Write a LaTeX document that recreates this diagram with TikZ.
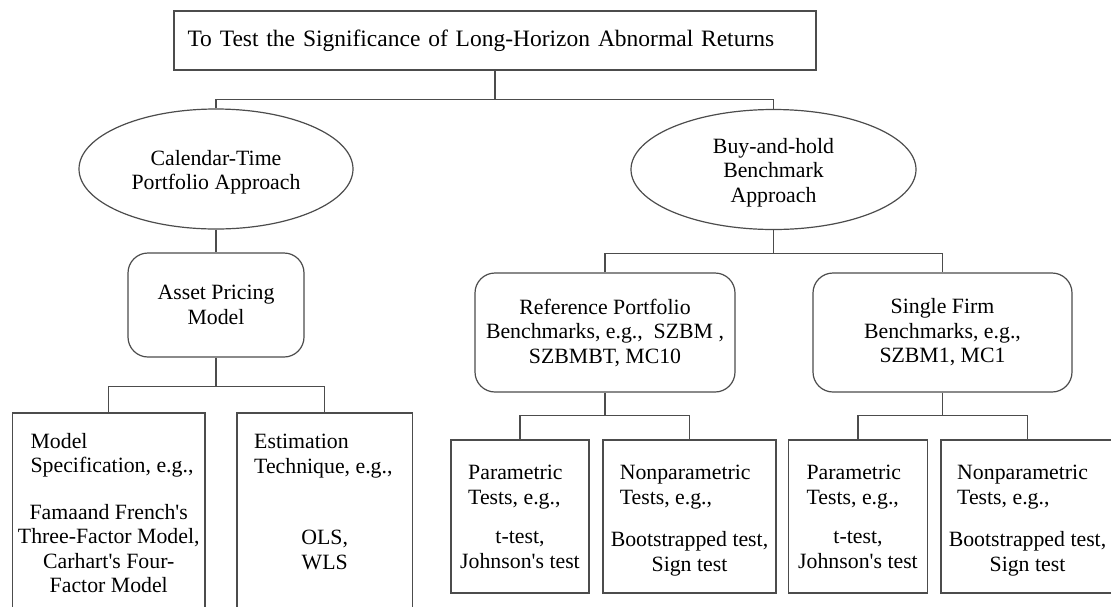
\documentclass[tikz,border=0pt]{standalone}
\usepackage{fontspec}
\setmainfont{Liberation Serif}
\usetikzlibrary{shapes.geometric}
\newcommand\bodysize{\fontsize{21.8}{24.5}\selectfont}
\newcommand\titlesize{\fontsize{23.5}{27}\selectfont}
\definecolor{linec}{gray}{0.3}
\begin{document}
\begin{tikzpicture}[x=1pt,y=-1pt,
  conn/.style={draw=linec, line width=1.2pt},
  sqbox/.style={draw=linec, line width=1.2pt, rectangle, inner sep=0pt, font=\bodysize},
  rbox/.style={sqbox, rounded corners=20pt, align=center},
  ell/.style={draw=linec, line width=1.2pt, ellipse, inner sep=0pt, align=center, font=\bodysize},
  lefttxt/.style={anchor=north west, inner sep=0pt, align=left, font=\bodysize},
  ctxt/.style={anchor=north, inner sep=0pt, align=center, font=\bodysize},
  mtxt/.style={anchor=center, inner sep=0pt, align=center, font=\bodysize}]
\useasboundingbox (0,0) rectangle (1111,606);
\fill[white] (0,0) rectangle (1111,606);
\clip (0,0) rectangle (1111,606);

\node[sqbox, minimum width=642, minimum height=59, text width=615, inner xsep=13.5, align=left, font=\titlesize] (title) at (495,40.5) {To Test the Significance of Long-Horizon Abnormal Returns};

\node[ell, minimum width=274, minimum height=120] (ellL) at (216,169) {};
\node[mtxt] (ellLtxt) at ([yshift=-3.5pt]ellL.center) {Calendar-Time\\Portfolio Approach};
\node[ell, minimum width=285, minimum height=120] (ellR) at (773.5,169.5) {};
\node[mtxt] (ellRtxt) at ([yshift=-3pt]ellR.center) {Buy-and-hold\\Benchmark\\Approach};

\node[rbox, minimum width=176, minimum height=104] (asset) at (216,305) {Asset Pricing\\Model};
\node[rbox, minimum width=260, minimum height=119] (ref) at (605,332.5) {Reference Portfolio\\Benchmarks, e.g.,\ \ SZBM ,\\SZBMBT, MC10};
\node[rbox, minimum width=259, minimum height=119] (single) at (942.5,332.5) {Single Firm\\Benchmarks, e.g.,\\SZBM1, MC1};

\node[sqbox, minimum width=192.5, minimum height=240] (model) at (108.75,533) {};
\node[sqbox, minimum width=175.5, minimum height=240] (estim) at (324.75,533) {};
\node[sqbox, minimum width=138, minimum height=153] (p1) at (520,516.5) {};
\node[sqbox, minimum width=173, minimum height=153] (n1) at (689.5,516.5) {};
\node[sqbox, minimum width=139, minimum height=153] (p2) at (858,516.5) {};
\node[sqbox, minimum width=173, minimum height=153] (n2) at (1027.5,516.5) {};

\node[lefttxt] (modelA) at (30.4,433) {Model\\Specification, e.g.,};
\node[ctxt] (modelB) at (108.75,504) {Famaand French\textquotesingle s\\Three-Factor Model,\\Carhart\textquotesingle s Four-\\Factor Model};
\node[lefttxt] (estA) at (254,434) {Estimation\\Technique, e.g.,};
\node[ctxt] (estB) at (324.75,530) {OLS,\\WLS};
\node[lefttxt] (p1A) at (468,465) {Parametric\\Tests, e.g.,};
\node[ctxt] (p1B) at (520,531.5) {t-test,\\Johnson\textquotesingle s test};
\node[lefttxt] (n1A) at (619.6,465) {Nonparametric\\Tests, e.g.,};
\node[ctxt] (n1B) at (689.5,531.5) {Bootstrapped test,\\Sign test};
\node[lefttxt] (p2A) at (806.4,465) {Parametric\\Tests, e.g.,};
\node[ctxt] (p2B) at (858,531.5) {t-test,\\Johnson\textquotesingle s test};
\node[lefttxt] (n2A) at (957,465) {Nonparametric\\Tests, e.g.,};
\node[ctxt] (n2B) at (1027.5,531.5) {Bootstrapped test,\\Sign test};

\draw[conn] (title.south) -- ++(0,29) coordinate (tj);
\draw[conn] (ellL.north) |- (tj) -| (ellR.north);
\draw[conn] (ellL.south) -- (asset.north);
\draw[conn] (asset.south) -- ++(0,29) coordinate (aj);
\draw[conn] (model.north) |- (aj) -| (estim.north);
\draw[conn] (ellR.south) -- ++(0,23) coordinate (rj);
\draw[conn] (ref.north) |- (rj) -| (single.north);
\draw[conn] (ref.south) -- ++(0,23) coordinate (fj);
\draw[conn] (p1.north) |- (fj) -| (n1.north);
\draw[conn] (single.south) -- ++(0,23) coordinate (sj);
\draw[conn] (p2.north) |- (sj) -| (n2.north);
\end{tikzpicture}
\end{document}
